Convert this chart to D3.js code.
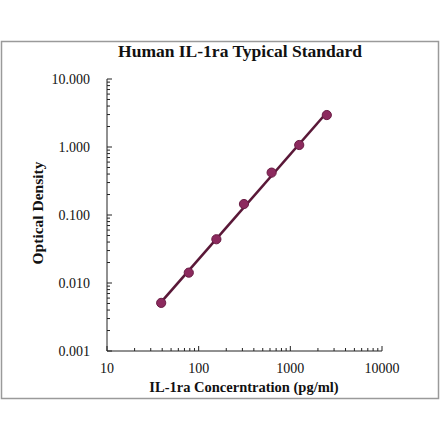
<!DOCTYPE html>
<html><head><meta charset="utf-8">
<script src="https://cdn.jsdelivr.net/npm/d3@7"></script>
<style>html,body{margin:0;padding:0;background:#fff;}svg{display:block;}</style>
</head><body>
<svg id="c" width="440" height="441"></svg>
<script>
const concentrations = [39, 78, 156, 312, 625, 1250, 2500];
const odValues = [0.0051, 0.0142, 0.044, 0.145, 0.42, 1.07, 2.95];
const xTickValues = [10, 100, 1000, 10000];
const xTickLabels = ["10", "100", "1000", "10000"];
const yTickValues = [0.001, 0.01, 0.1, 1, 10];
const yTickLabels = ["0.001", "0.010", "0.100", "1.000", "10.000"];
const title = "Human IL-1ra Typical Standard";
const xTitle = "IL-1ra Concerntration (pg/ml)";
const yTitle = "Optical Density";

const svg = d3.select("#c");
const L = 107, R = 382, T = 79, B = 351;
const x = d3.scaleLog().domain([10, 10000]).range([L, R]);
const y = d3.scaleLog().domain([0.001, 10]).range([B, T]);

svg.append("rect").attr("x", 1.5).attr("y", 41.5).attr("width", 437).attr("height", 357)
  .attr("fill", "none").attr("stroke", "#9a9a9a").attr("stroke-width", 1.5);

const serif = "'Liberation Serif', 'DejaVu Serif', serif";

svg.append("text").attr("x", 240).attr("y", 57).attr("text-anchor", "middle")
  .attr("font-family", serif).attr("font-weight", "bold").attr("font-size", 17.5).attr("fill", "#111").text(title);

// minor ticks
function minors(domain) {
  const out = [];
  for (let e = Math.log10(domain[0]); e < Math.log10(domain[1]); e++) {
    for (let k = 2; k <= 9; k++) out.push(k * Math.pow(10, e));
  }
  return out;
}
const g = svg.append("g").attr("stroke", "#222").attr("stroke-width", 1);
minors([10, 10000]).forEach(v => g.append("line").attr("x1", x(v)).attr("x2", x(v)).attr("y1", B).attr("y2", B - 3));
xTickValues.forEach(v => g.append("line").attr("x1", x(v)).attr("x2", x(v)).attr("y1", B).attr("y2", B - 5));
minors([0.001, 10]).forEach(v => g.append("line").attr("y1", y(v)).attr("y2", y(v)).attr("x1", L).attr("x2", L + 3));
yTickValues.forEach(v => g.append("line").attr("y1", y(v)).attr("y2", y(v)).attr("x1", L).attr("x2", L + 5));
g.append("line").attr("x1", L).attr("x2", L).attr("y1", T).attr("y2", B);
g.append("line").attr("x1", L).attr("x2", R).attr("y1", B).attr("y2", B);

xTickValues.forEach((v, i) => svg.append("text").attr("x", x(v)).attr("y", B + 22).attr("text-anchor", "middle")
  .attr("font-family", serif).attr("font-size", 14).attr("fill", "#111").text(xTickLabels[i]));
yTickValues.forEach((v, i) => svg.append("text").attr("x", L - 17).attr("y", y(v) + 5).attr("text-anchor", "end")
  .attr("font-family", serif).attr("font-size", 14).attr("fill", "#111").text(yTickLabels[i]));

svg.append("text").attr("x", 244).attr("y", 392).attr("text-anchor", "middle")
  .attr("font-family", serif).attr("font-weight", "bold").attr("font-size", 14.5).attr("fill", "#111").text(xTitle);
svg.append("text").attr("transform", "translate(43,213) rotate(-90)").attr("text-anchor", "middle")
  .attr("font-family", serif).attr("font-weight", "bold").attr("font-size", 15.5).attr("fill", "#111").text(yTitle);

// log-log regression fit line
const lx = concentrations.map(Math.log10), ly = odValues.map(Math.log10);
const mx = d3.mean(lx), my = d3.mean(ly);
const slope = d3.sum(lx.map((v, i) => (v - mx) * (ly[i] - my))) / d3.sum(lx.map(v => (v - mx) ** 2));
const icpt = my - slope * mx;
const x0 = d3.min(concentrations), x1 = d3.max(concentrations);
const fit = [x0, x1].map(c => [c, Math.pow(10, icpt + slope * Math.log10(c))]);
svg.append("path").datum(fit)
  .attr("d", d3.line().x(d => x(d[0])).y(d => y(d[1])))
  .attr("fill", "none").attr("stroke", "#5a1838").attr("stroke-width", 2.6);

svg.selectAll("circle.pt").data(concentrations).enter().append("circle")
  .attr("cx", d => x(d)).attr("cy", (d, i) => y(odValues[i])).attr("r", 4.6)
  .attr("fill", "#8c2a5e").attr("stroke", "#6a1c44").attr("stroke-width", 1);
</script>
</body></html>
